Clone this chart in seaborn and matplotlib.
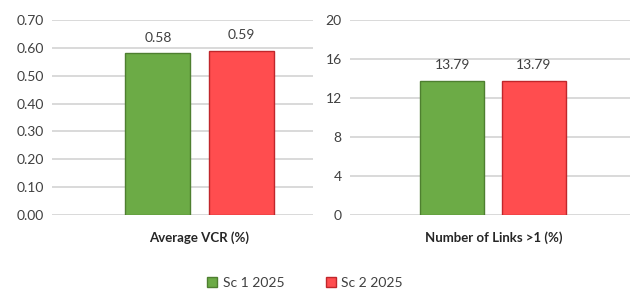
import pandas as pd
import numpy as np
import matplotlib
matplotlib.use("Agg")
import matplotlib.pyplot as plt
import seaborn as sns
from matplotlib.patches import Patch

scenarios = ["Sc 1 2025", "Sc 2 2025"]
vcr_values = [0.58, 0.59]
links_values = [13.79, 13.79]
metric_names = ["Average VCR (%)", "Number of Links >1 (%)"]

colors = {"Sc 1 2025": "#6CAB46", "Sc 2 2025": "#FF4D4F"}
edges = {"Sc 1 2025": "#4E7F30", "Sc 2 2025": "#C0262B"}

sns.set_theme(style="white")
plt.rcParams['font.family'] = ['Lato', 'DejaVu Sans']
txt_col = "#404040"

fig = plt.figure(figsize=(6.3, 2.93), dpi=100)
ax1 = fig.add_axes([52 / 630, 1 - 215 / 293, 261 / 630, 195 / 293])
ax2 = fig.add_axes([350 / 630, 1 - 215 / 293, 280 / 630, 195 / 293])


def draw(ax, metric, vals, ylim, ticks, ticklabels, xlim, label_x):
    df = pd.DataFrame({"metric": [metric] * len(scenarios), "scenario": scenarios, "value": vals})
    sns.barplot(data=df, x="metric", y="value", hue="scenario", palette=colors,
                width=0.8, gap=0.22, ax=ax, legend=False, saturation=1)
    for patch, sc in zip(ax.patches, scenarios):
        patch.set_edgecolor(edges[sc])
        patch.set_linewidth(1.0)
    for cont in ax.containers:
        ax.bar_label(cont, fmt="%.2f", padding=7, fontsize=10, color=txt_col)
    ax.set_ylim(*ylim)
    ax.set_xlim(*xlim)
    ax.set_yticks(ticks)
    ax.set_yticklabels(ticklabels)
    ax.yaxis.grid(True, color="#D0D0D0", linewidth=1.1)
    ax.set_axisbelow(True)
    for s in ax.spines.values():
        s.set_visible(False)
    ax.tick_params(axis="y", labelsize=10, colors=txt_col, pad=6, length=0)
    ax.tick_params(axis="x", length=0)
    ax.set_xticklabels([])
    ax.set_ylabel("")
    ax.set_xlabel(metric, fontsize=9.5, fontweight="bold", color="#262626")
    ax.xaxis.set_label_coords(label_x, -0.085, transform=ax.transAxes)
    ax.xaxis.label.set_va("top")


ticks1 = np.arange(0, 0.71, 0.1)
ticks2 = np.arange(0, 21, 4)
draw(ax1, metric_names[0], vcr_values, (0, 0.70), ticks1, [f"{t:.2f}" for t in ticks1],
     (-0.707, 0.543), (199.5 - 52) / 261)
draw(ax2, metric_names[1], links_values, (0, 20), ticks2, [str(int(t)) for t in ticks2],
     (-0.70, 0.67), (494 - 350) / 280)

handles = [Patch(facecolor=colors[s], edgecolor=edges[s], label=s) for s in scenarios]
fig.legend(handles=handles, loc="center", bbox_to_anchor=(305 / 630, 1 - 283 / 293), ncol=2,
           frameon=False, fontsize=10, handlelength=0.7, handleheight=0.7, handletextpad=0.4,
           columnspacing=3.0, labelcolor=txt_col)

fig.savefig("out.png", dpi=100)
